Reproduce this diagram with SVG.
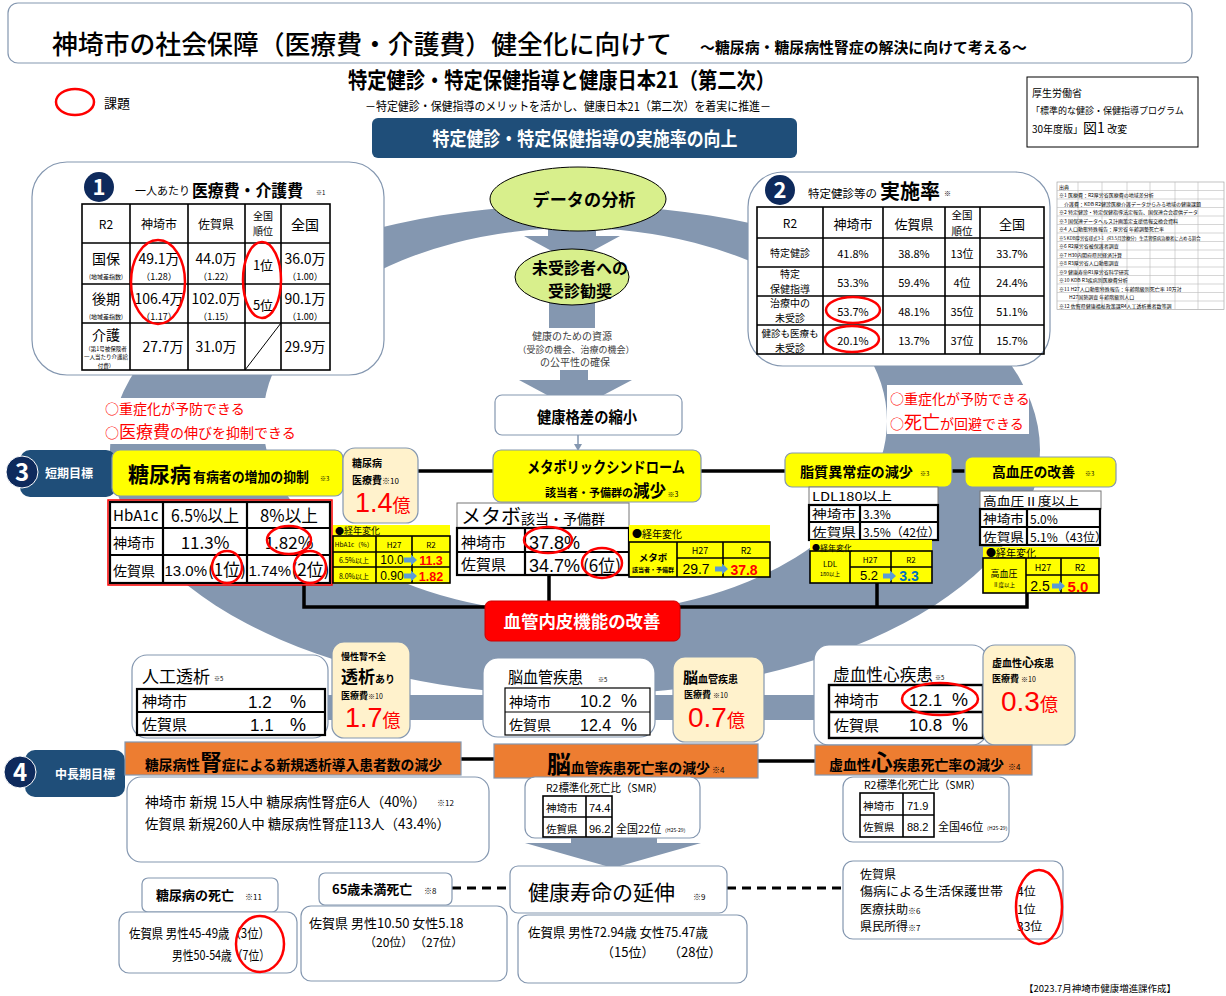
<svg xmlns="http://www.w3.org/2000/svg" width="1226" height="996" viewBox="0 0 1226 996">
<style>
text{font-family:"Noto Sans CJK JP","Noto Sans CJK SC",sans-serif;fill:#000}
.n{font-family:"Liberation Sans",Arial,sans-serif}
.b{font-weight:bold}
.m{text-anchor:middle}
.r{fill:#f00}
.w{fill:#fff}
.bl{fill:#0070c0}
.g{fill:#404040}
.bx{fill:#fff;stroke:#8497b0;stroke-width:1.2}
.tb{fill:none;stroke:#000;stroke-width:1.6}
.ln{stroke:#000;stroke-width:1.6;fill:none}
.thk{fill:none;stroke:#000;stroke-width:2.2}
.yl{fill:#ff0;stroke:#8497b0;stroke-width:1.2}
.yb{fill:#ff0}
.cr{fill:#fff2cc;stroke:#8497b0;stroke-width:1.2}
.or{fill:#ed7d31;stroke:#8497b0;stroke-width:1.2}
.ov{fill:none;stroke:#f00;stroke-width:2.5}
.gr{fill:#8497b0}
.nv{fill:#0e2a5c}
.tab{fill:#1f4e79}
.conn{stroke:#000;stroke-width:3.5;fill:none}
.dash{stroke:#000;stroke-width:3;stroke-dasharray:9 6;fill:none}
.src{stroke:#bbb;stroke-width:0.6;fill:none}
.el{fill:#d8ef8c;stroke:#000;stroke-width:1}
.wt{fill:#fff}
</style>
<defs>
<path id="ar" d="M0,-2.5H7V-5.5L13,0L7,5.5V2.5H0Z" fill="#5b9bd5"/>
</defs>

<g id="ring">
<path class="gr" fill-rule="evenodd" d="M110,450 A465,245 0 1,0 1040,450 A465,245 0 1,0 110,450 Z M263,421 A312,193 0 1,0 887,421 A312,193 0 1,0 263,421 Z"/>
<rect class="gr" x="320" y="695" width="510" height="25"/>
</g>

<g id="connectors">
<path class="gr" d="M548,226 H596 V236 H620 L572,262 L524,236 H548 Z"/>
<rect class="gr" x="549" y="298" width="46" height="30"/>
<path class="gr" d="M560,370 H588 V380 H632 L575,410 L519,380 H560 Z"/>
<line x1="578" y1="435" x2="578" y2="446" stroke="#8497b0" stroke-width="1.5"/>
<path d="M574,444 L582,444 L578,451 Z" fill="#8497b0"/>
<line class="conn" x1="418" y1="471" x2="965" y2="471"/>
<path class="conn" d="M304,584 V607 H1027 V593 M549,575 V601 M877,583 V607"/>
<line class="conn" x1="461" y1="759" x2="494" y2="759"/>
<line class="conn" x1="758" y1="761" x2="815" y2="761"/>
<path class="gr" d="M571,830 H657 V843 H701 L613,868 L525,843 H571 Z"/>
<line class="dash" x1="452" y1="888" x2="510" y2="888"/>
<line class="dash" x1="727" y1="888" x2="843" y2="888"/>
</g>

<g id="header">
<rect x="8" y="3" width="1184" height="60" rx="10" fill="#fff" stroke="#8497b0" stroke-width="1.2"/>
<text x="52" y="54" font-size="26" font-weight="500" textLength="620" lengthAdjust="spacingAndGlyphs">神埼市の社会保障（医療費・介護費）健全化に向けて</text>
<text x="700" y="53" font-size="15" class="b" textLength="327" lengthAdjust="spacingAndGlyphs">～糖尿病・糖尿病性腎症の解決に向けて考える～</text>
<text x="348" y="88" font-size="22" class="b" textLength="427" lengthAdjust="spacingAndGlyphs">特定健診・特定保健指導と健康日本21（第二次）</text>
<text x="365" y="111" font-size="12" textLength="406" lengthAdjust="spacingAndGlyphs">－特定健診・保健指導のメリットを活かし、健康日本21（第二次）を着実に推進－</text>
</g>

<g id="legend">
<ellipse class="ov" cx="75" cy="102" rx="19" ry="13"/>
<text x="104" y="108" font-size="13">課題</text>
</g>

<g id="reference">
<rect x="1027" y="77" width="171" height="70" fill="#fff" stroke="#000" stroke-width="1"/>
<text font-size="10"><tspan x="1032" y="97">厚生労働省</tspan><tspan x="1031" y="114" font-size="9">「標準的な健診・保健指導プログラム</tspan><tspan x="1032" y="133">30年度版」<tspan font-size="14">図1</tspan> 改変</tspan></text>
</g>

<g id="goal">
<rect x="372" y="118" width="425" height="40" rx="6" fill="#1f4e79"/>
<text x="585" y="146" font-size="19" class="b w m" textLength="305" lengthAdjust="spacingAndGlyphs">特定健診・特定保健指導の実施率の向上</text>
</g>

<g id="box1">
<rect class="bx" x="32" y="162" width="352" height="213" rx="35"/>
<circle class="nv" cx="99" cy="187" r="15"/>
<text x="99" y="195" font-size="22" class="b w m">1</text>
<text x="135" y="195" font-size="11">一人あたり</text>
<text x="192" y="197" font-size="16.5" class="b" textLength="111" lengthAdjust="spacingAndGlyphs">医療費・介護費</text>
<text x="316" y="195" font-size="6">※1</text>
<rect class="tb" x="82" y="204" width="248" height="166"/>
<path class="ln" d="M130,204V370M188,204V370M245,204V370M281,204V370M82,243H330M82,284H330M82,323H330"/>
<line x1="245" y1="370" x2="281" y2="323" stroke="#000" stroke-width="1"/>
<g class="m">
<text x="106" y="229" font-size="12">R2</text>
<text x="159" y="229" font-size="12">神埼市</text>
<text x="216" y="229" font-size="12">佐賀県</text>
<text font-size="10"><tspan x="263" y="220">全国</tspan><tspan x="263" y="235">順位</tspan></text>
<text x="305" y="230" font-size="14">全国</text>
<text font-size="14"><tspan x="106" y="264">国保</tspan><tspan x="106" y="279" font-size="6">(地域差指数)</tspan></text>
<text font-size="14"><tspan x="159" y="264">49.1万</tspan><tspan x="159" y="280" font-size="9">（1.28）</tspan></text>
<text font-size="14"><tspan x="216" y="264">44.0万</tspan><tspan x="216" y="280" font-size="9">（1.22）</tspan></text>
<text x="263" y="270" font-size="13">1位</text>
<text font-size="14"><tspan x="305" y="264">36.0万</tspan><tspan x="305" y="280" font-size="9">（1.00）</tspan></text>
<text font-size="14"><tspan x="106" y="304">後期</tspan><tspan x="106" y="319" font-size="6">(地域差指数)</tspan></text>
<text font-size="14"><tspan x="159" y="304">106.4万</tspan><tspan x="159" y="320" font-size="9">（1.17）</tspan></text>
<text font-size="14"><tspan x="216" y="304">102.0万</tspan><tspan x="216" y="320" font-size="9">（1.15）</tspan></text>
<text x="263" y="310" font-size="13">5位</text>
<text font-size="14"><tspan x="305" y="304">90.1万</tspan><tspan x="305" y="320" font-size="9">（1.00）</tspan></text>
<text font-size="14"><tspan x="106" y="340">介護</tspan><tspan x="106" y="351" font-size="5.5">（第1号被保険者</tspan><tspan x="106" y="359.3" font-size="5.5">一人当たり介護給</tspan><tspan x="106" y="367.6" font-size="5.5">付費）</tspan></text>
<text x="163" y="352" font-size="14">27.7万</text>
<text x="216" y="352" font-size="14">31.0万</text>
<text x="305" y="352" font-size="14">29.9万</text>
</g>
<ellipse class="ov" cx="158" cy="282" rx="27" ry="42"/>
<ellipse class="ov" cx="262" cy="280" rx="19" ry="38"/>
</g>

<g id="box2">
<rect class="bx" x="748" y="172" width="302" height="194" rx="35"/>
<circle class="nv" cx="780" cy="190" r="15"/>
<text x="780" y="198" font-size="22" class="b w m">2</text>
<text x="808" y="198" font-size="11.5">特定健診等の</text>
<text x="880" y="199" font-size="20" class="b">実施率</text>
<text x="944" y="196" font-size="7">※</text>
<rect class="tb" x="757" y="207" width="287" height="147"/>
<path class="ln" d="M823,207V354M883,207V354M945,207V354M980,207V354M757,238H1044M757,267H1044M757,296H1044M757,325H1044"/>
<g class="m">
<text x="790" y="228" font-size="12">R2</text>
<text x="853" y="229" font-size="13">神埼市</text>
<text x="914" y="229" font-size="13">佐賀県</text>
<text font-size="10.5"><tspan x="962" y="219">全国</tspan><tspan x="962" y="235">順位</tspan></text>
<text x="1012" y="229" font-size="13">全国</text>
<text x="790" y="257" font-size="10">特定健診</text>
<text x="853" y="258" font-size="11">41.8%</text>
<text x="914" y="258" font-size="11">38.8%</text>
<text x="962" y="258" font-size="11">13位</text>
<text x="1012" y="258" font-size="11">33.7%</text>
<text font-size="10"><tspan x="790" y="278">特定</tspan><tspan x="790" y="293">保健指導</tspan></text>
<text x="853" y="287" font-size="11">53.3%</text>
<text x="914" y="287" font-size="11">59.4%</text>
<text x="962" y="287" font-size="11">4位</text>
<text x="1012" y="287" font-size="11">24.4%</text>
<text font-size="10"><tspan x="790" y="307">治療中の</tspan><tspan x="790" y="322">未受診</tspan></text>
<text x="853" y="316" font-size="11">53.7%</text>
<text x="914" y="316" font-size="11">48.1%</text>
<text x="962" y="316" font-size="11">35位</text>
<text x="1012" y="316" font-size="11">51.1%</text>
<text font-size="9.5"><tspan x="790" y="336.5">健診も医療も</tspan><tspan x="790" y="351.5" font-size="10">未受診</tspan></text>
<text x="853" y="345" font-size="11">20.1%</text>
<text x="914" y="345" font-size="11">13.7%</text>
<text x="962" y="345" font-size="11">37位</text>
<text x="1012" y="345" font-size="11">15.7%</text>
</g>
<ellipse class="ov" cx="853" cy="310" rx="27" ry="13"/>
<ellipse class="ov" cx="852" cy="339" rx="27" ry="13"/>
</g>

<g id="sources" font-size="5">
<rect x="1057" y="182" width="167" height="127.5" fill="#fff" stroke="#999" stroke-width="0.6"/>
<path class="src" d="M1078,182V309.5M1102,182V309.5M1127,182V309.5M1150,182V309.5M1175,182V309.5M1198,182V309.5M1057,190.5H1224M1057,199H1224M1057,207.5H1224M1057,216H1224M1057,224.5H1224M1057,233H1224M1057,241.5H1224M1057,250H1224M1057,258.5H1224M1057,267H1224M1057,275.5H1224M1057,284H1224M1057,292.5H1224M1057,301H1224"/>
<text x="1059" y="188.5" font-size="5">出典</text>
<text x="1059" y="197" font-size="5">※1 医療費：R2厚労省医療費の地域差分析</text>
<text x="1059" y="205.5" font-size="5">　介護費：KDB R2健診医療介護データからみる地域の健康課題</text>
<text x="1059" y="214" font-size="5">※2 特定健診・特定保健指導法定報告、国保連合会提供データ</text>
<text x="1059" y="222.5" font-size="5">※3 国保連データヘルス計画策定支援情報交換会資料</text>
<text x="1059" y="231" font-size="5">※4 人口動態特殊報告：厚労省 年齢調整死亡率</text>
<text x="1059" y="239.5" font-size="4.4">※5 KDB厚労省様式3-1（R3.5月診療分）生活習慣病治療者に占める割合</text>
<text x="1059" y="248" font-size="5">※6 R2厚労省被保護者調査</text>
<text x="1059" y="256.5" font-size="5">※7 H30内閣府県民経済計算</text>
<text x="1059" y="265" font-size="5">※8 R3厚労省人口動態調査</text>
<text x="1059" y="273.5" font-size="5">※9 健康寿命R1厚労省科学研究</text>
<text x="1059" y="282" font-size="5">※10 KDB R3疾病別医療費分析</text>
<text x="1059" y="290.5" font-size="5">※11 H27人口動態特殊報告：年齢階級別死亡率 10万対</text>
<text x="1059" y="299" font-size="5">　　H27国勢調査 年齢階級別人口</text>
<text x="1059" y="307.5" font-size="5">※12 佐賀県健康福祉政策課R4人工透析患者数等調</text>
</g>

<g id="analysis">
<ellipse class="el" cx="578" cy="199" rx="88" ry="32"/>
<text x="584" y="206" font-size="17" class="b m" textLength="103" lengthAdjust="spacingAndGlyphs">データの分析</text>
</g>
<g id="recommend">
<ellipse class="el" cx="572" cy="277" rx="57" ry="28"/>
<text font-size="16" class="b m"><tspan x="580" y="274">未受診者への</tspan><tspan x="580" y="297">受診勧奨</tspan></text>
</g>
<g id="resources">
<text font-size="10" class="m g"><tspan x="572" y="340">健康のための資源</tspan><tspan x="576" y="353" font-size="9">（受診の機会、治療の機会）</tspan><tspan x="575" y="366">の公平性の確保</tspan></text>
</g>
<g id="gap">
<rect class="bx" x="495" y="395" width="187" height="40" rx="7"/>
<text x="587" y="423" font-size="16" class="b m" textLength="100" lengthAdjust="spacingAndGlyphs">健康格差の縮小</text>
</g>

<g id="effect-left">
<rect x="103" y="398" width="178" height="46" fill="#fff"/>
<text font-size="14" class="r"><tspan x="105" y="414">○重症化が予防できる</tspan><tspan x="105" y="438">○<tspan font-size="17">医療費</tspan>の伸びを抑制できる</tspan></text>
</g>
<g id="effect-right">
<rect x="887" y="385" width="142" height="49" fill="#fff"/>
<text font-size="14" class="r"><tspan x="890" y="404">○重症化が予防できる</tspan><tspan x="890" y="429">○<tspan font-size="18">死亡</tspan>が回避できる</tspan></text>
</g>

<g id="short-term">
<rect class="tab" x="20" y="450" width="96" height="47" rx="10"/>
<circle class="nv" cx="22" cy="472" r="16" stroke="#fff" stroke-width="1"/>
<text x="22" y="481" font-size="24" class="b w m">3</text>
<text x="45" y="478" font-size="12" class="b w">短期目標</text>
</g>

<g id="diabetes">
<rect class="yl" x="112" y="450" width="231" height="46" rx="8"/>
<text x="128" y="482" font-size="21" class="b">糖尿病</text>
<text x="193" y="482" font-size="14" class="b" textLength="116" lengthAdjust="spacingAndGlyphs">有病者の増加の抑制</text>
<text x="320" y="481" font-size="6">※3</text>
</g>
<g id="diabetes-cost">
<rect class="cr" x="343" y="448" width="75" height="75" rx="12"/>
<text font-size="10" class="b"><tspan x="352" y="467">糖尿病</tspan><tspan x="352" y="484">医療費<tspan font-size="8" font-weight="normal">※10</tspan></tspan></text>
<text x="355" y="512" font-size="27" class="r"><tspan class="n">1.4</tspan><tspan font-size="18">億</tspan></text>
</g>
<g id="hba1c">
<rect x="108" y="500" width="224" height="85" fill="#fff" stroke="#f00" stroke-width="1.5"/>
<rect class="thk" x="110" y="502" width="220" height="81"/>
<path class="thk" d="M163,502V583M247,502V583M110,528H330M110,555H330"/>
<text x="113" y="521" font-size="15">HbA1c</text>
<text x="205" y="522" font-size="17" class="m" textLength="68" lengthAdjust="spacingAndGlyphs">6.5%以上</text>
<text x="289" y="522" font-size="17" class="m" textLength="58" lengthAdjust="spacingAndGlyphs">8%以上</text>
<text x="113" y="548" font-size="14">神埼市</text>
<text x="205" y="549" font-size="17" class="m">11.3%</text>
<text x="289" y="549" font-size="17" class="m">1.82%</text>
<text x="113" y="576" font-size="14">佐賀県</text>
<text x="164.5" y="576" font-size="15" class="n">13.0%</text>
<text x="208" y="576" font-size="17">(1位)</text>
<text x="248.5" y="576" font-size="15" class="n">1.74%</text>
<text x="291.5" y="576" font-size="17">(2位)</text>
<ellipse class="ov" cx="227" cy="567" rx="15" ry="16"/>
<ellipse class="ov" cx="289" cy="540" rx="22" ry="14"/>
<ellipse class="ov" cx="310" cy="567" rx="16" ry="16"/>
</g>
<g id="hba1c-trend">
<rect class="yb" x="333" y="525" width="117" height="59"/>
<text x="335" y="534" font-size="9">●経年変化</text>
<rect class="tb" x="333" y="536" width="117" height="47"/>
<path class="ln" d="M376,536V583M412,536V583M333,552H450M333,567H450"/>
<text x="354" y="547" font-size="6.5" class="m">HbA1c（%）</text>
<text x="394" y="548" font-size="8" class="m">H27</text>
<text x="431" y="548" font-size="8" class="m">R2</text>
<text x="354" y="563" font-size="7" class="m">6.5%以上</text>
<text x="354" y="579" font-size="7" class="m">8.0%以上</text>
<text x="392" y="564" font-size="12" class="m n">10.0</text>
<text x="392" y="580" font-size="12" class="m n">0.90</text>
<use href="#ar" x="404" y="560"/>
<use href="#ar" x="404" y="576"/>
<text x="431" y="565" font-size="12.5" class="m b r n">11.3</text>
<text x="431" y="581" font-size="12.5" class="m b r n">1.82</text>
</g>

<g id="metabo">
<rect class="yl" x="493" y="450" width="208" height="52" rx="8"/>
<text class="b"><tspan x="527" y="472.5" font-size="15.5" textLength="158" lengthAdjust="spacingAndGlyphs">メタボリックシンドローム</tspan><tspan x="545" y="497" font-size="11">該当者・予備群の<tspan font-size="16.5">減少</tspan><tspan font-size="7" font-weight="normal"> ※3</tspan></tspan></text>
</g>
<g id="metabo-table">
<rect x="457" y="503" width="172" height="25" fill="#fff" stroke="#777" stroke-width="1"/>
<text x="461" y="524" font-size="20">メタボ<tspan font-size="14">該当・予備群</tspan></text>
<rect class="wt" x="457" y="528" width="172" height="47"/>
<rect class="thk" x="457" y="528" width="172" height="47"/>
<path class="thk" d="M525,528V575M457,552H629"/>
<text x="461" y="547.5" font-size="15">神埼市</text>
<text x="529" y="548.5" font-size="18" class="n">37.8%</text>
<text x="461" y="570" font-size="15">佐賀県</text>
<text x="529" y="572" font-size="18" class="n">34.7%</text>
<text x="583" y="572" font-size="17">(6位)</text>
<ellipse class="ov" cx="548" cy="540" rx="24" ry="13"/>
<ellipse class="ov" cx="602" cy="563" rx="20" ry="15"/>
</g>
<g id="metabo-trend">
<rect class="yb" x="629" y="525" width="141" height="52"/>
<text x="632" y="538" font-size="10">●経年変化</text>
<rect class="tb" x="629" y="542" width="141" height="35"/>
<path class="ln" d="M677,542V577M723,542V577M677,558H770"/>
<text class="m b"><tspan x="653" y="561" font-size="9.5">メタボ</tspan><tspan x="653" y="572" font-size="6">該当者・予備群</tspan></text>
<text x="700" y="554" font-size="9" class="m">H27</text>
<text x="746" y="554" font-size="9" class="m">R2</text>
<text x="696" y="574" font-size="14" class="m n">29.7</text>
<use href="#ar" x="715" y="569"/>
<text x="744" y="575" font-size="14" class="m b r n">37.8</text>
</g>

<g id="lipid">
<rect class="yl" x="785" y="453" width="167" height="34" rx="7"/>
<text x="800" y="477" font-size="14" class="b" textLength="113" lengthAdjust="spacingAndGlyphs">脂質異常症の減少</text>
<text x="920" y="476" font-size="6">※3</text>
</g>
<g id="lipid-table">
<rect x="809" y="487" width="129" height="18" fill="#fff" stroke="#777" stroke-width="1"/>
<text x="812" y="501" font-size="12" textLength="80" lengthAdjust="spacingAndGlyphs">LDL180以上</text>
<rect class="wt" x="809" y="505" width="129" height="35"/>
<rect class="thk" x="809" y="505" width="129" height="35"/>
<path class="thk" d="M860,505V540M809,522H938"/>
<text x="812" y="518.8" font-size="12" textLength="44" lengthAdjust="spacingAndGlyphs">神埼市</text>
<text x="863" y="518.8" font-size="12">3.3%</text>
<text x="812" y="536.5" font-size="12" textLength="44" lengthAdjust="spacingAndGlyphs">佐賀県</text>
<text x="863" y="536.5" font-size="12">3.5%（42位）</text>
</g>
<g id="lipid-trend">
<rect class="yb" x="810" y="540" width="122" height="43"/>
<text x="812" y="550.5" font-size="8">●経年変化</text>
<rect class="tb" x="810" y="551" width="122" height="32"/>
<path class="ln" d="M850,551V583M891,551V583M850,567H932"/>
<text class="m"><tspan x="830" y="567" font-size="8">LDL</tspan><tspan x="830" y="576" font-size="5.5">180以上</tspan></text>
<text x="870" y="563" font-size="8" class="m">H27</text>
<text x="911" y="563" font-size="8" class="m">R2</text>
<text x="869" y="580" font-size="13" class="m n">5.2</text>
<use href="#ar" x="883" y="576"/>
<text x="909" y="581" font-size="14" class="m b bl n">3.3</text>
</g>

<g id="bp">
<rect class="yl" x="965" y="457" width="151" height="30" rx="7"/>
<text x="992" y="477" font-size="14" class="b" textLength="83" lengthAdjust="spacingAndGlyphs">高血圧の改善</text>
<text x="1085" y="476" font-size="6">※3</text>
</g>
<g id="bp-table">
<rect x="980" y="491" width="121" height="18" fill="#fff" stroke="#777" stroke-width="1"/>
<text x="983" y="505.5" font-size="12" textLength="96" lengthAdjust="spacingAndGlyphs">高血圧Ⅱ度以上</text>
<rect class="wt" x="980" y="509" width="120" height="36"/>
<rect class="thk" x="980" y="509" width="120" height="36"/>
<path class="thk" d="M1027,509V545M980,527H1100"/>
<text x="983" y="523.5" font-size="12" textLength="41" lengthAdjust="spacingAndGlyphs">神埼市</text>
<text x="1030" y="523.5" font-size="12">5.0%</text>
<text x="983" y="541.5" font-size="12" textLength="41" lengthAdjust="spacingAndGlyphs">佐賀県</text>
<text x="1030" y="541.5" font-size="12">5.1%（43位）</text>
</g>
<g id="bp-trend">
<rect class="yb" x="983" y="547" width="116" height="46"/>
<text x="986" y="557" font-size="10">●経年変化</text>
<rect class="tb" x="983" y="558" width="116" height="35"/>
<path class="ln" d="M1026,558V593M1061,558V593M1026,575H1099"/>
<text class="m"><tspan x="1004" y="577" font-size="9">高血圧</tspan><tspan x="1004" y="586.5" font-size="5.5">Ⅱ度以上</tspan></text>
<text x="1043" y="571" font-size="9" class="m">H27</text>
<text x="1080" y="571" font-size="9" class="m">R2</text>
<text x="1040" y="591" font-size="14" class="m n">2.5</text>
<use href="#ar" x="1052" y="586"/>
<text x="1078" y="592" font-size="15" class="m b r n">5.0</text>
</g>

<g id="vascular">
<rect x="485" y="601" width="195" height="40" rx="6" fill="#f00" stroke="#c00" stroke-width="1"/>
<text x="582" y="628" font-size="17" class="b w m" textLength="157" lengthAdjust="spacingAndGlyphs">血管内皮機能の改善</text>
</g>

<g id="dialysis">
<rect class="bx" x="132" y="655" width="196" height="83" rx="15"/>
<text x="142" y="683" font-size="17">人工透析</text>
<text x="214" y="681" font-size="6">※5</text>
<rect x="137" y="689" width="188" height="46" fill="#fff" stroke="#000" stroke-width="2.2"/>
<line class="thk" x1="137" y1="712" x2="325" y2="712"/>
<text x="142" y="707" font-size="15">神埼市</text>
<text x="248" y="708" font-size="17" class="n">1.2</text>
<text x="290" y="708" font-size="18" class="n">%</text>
<text x="142" y="730" font-size="15">佐賀県</text>
<text x="250" y="731" font-size="17" class="n">1.1</text>
<text x="290" y="731" font-size="18" class="n">%</text>
</g>
<g id="dialysis-cost">
<rect class="cr" x="332" y="642" width="78" height="96" rx="12"/>
<text class="b" font-size="9"><tspan x="341" y="660">慢性腎不全</tspan><tspan x="341" y="683" font-size="17">透析<tspan font-size="10">あり</tspan></tspan><tspan x="341" y="698.5">医療費<tspan font-size="7" font-weight="normal">※10</tspan></tspan></text>
<text x="345" y="727" font-size="27" class="r"><tspan class="n">1.7</tspan><tspan font-size="18">億</tspan></text>
</g>

<g id="cerebro">
<rect class="bx" x="483" y="658" width="172" height="79" rx="15"/>
<text x="508" y="683" font-size="16" textLength="75" lengthAdjust="spacingAndGlyphs">脳血管疾患</text>
<text x="598" y="682" font-size="6">※5</text>
<rect x="505" y="688" width="145" height="47" fill="#fff" stroke="#000" stroke-width="1.2"/>
<line x1="505" y1="712" x2="650" y2="712" stroke="#000" stroke-width="1.2"/>
<text x="509" y="707" font-size="14">神埼市</text>
<text x="580" y="707" font-size="16" class="n">10.2</text>
<text x="621" y="707" font-size="18" class="n">%</text>
<text x="509" y="730" font-size="14">佐賀県</text>
<text x="580" y="731" font-size="16" class="n">12.4</text>
<text x="621" y="731" font-size="18" class="n">%</text>
</g>
<g id="cerebro-cost">
<rect class="cr" x="673" y="657" width="91" height="85" rx="12"/>
<text class="b" font-size="10"><tspan x="683" y="683"><tspan font-size="15">脳</tspan>血管疾患</tspan><tspan x="684" y="698" font-size="9">医療費 <tspan font-size="7" font-weight="normal">※10</tspan></tspan></text>
<text x="688" y="727" font-size="28" class="r"><tspan class="n">0.7</tspan><tspan font-size="18">億</tspan></text>
</g>

<g id="ischemic">
<rect class="bx" x="814" y="645" width="173" height="100" rx="15"/>
<text x="833" y="681" font-size="16.5" textLength="100" lengthAdjust="spacingAndGlyphs">虚血性心疾患</text>
<text x="935" y="680" font-size="6">※5</text>
<rect x="829" y="685" width="154" height="53" fill="#fff" stroke="#000" stroke-width="2.4"/>
<line x1="829" y1="712" x2="983" y2="712" stroke="#000" stroke-width="2.4"/>
<text x="834" y="706" font-size="15">神埼市</text>
<text x="909" y="706" font-size="17" class="n">12.1</text>
<text x="952" y="706" font-size="18" class="n">%</text>
<text x="834" y="731" font-size="15">佐賀県</text>
<text x="909" y="731" font-size="17" class="n">10.8</text>
<text x="952" y="731" font-size="18" class="n">%</text>
<ellipse class="ov" cx="940" cy="699" rx="38" ry="16"/>
</g>
<g id="ischemic-cost">
<rect class="cr" x="983" y="645" width="92" height="100" rx="12"/>
<text class="b" font-size="10"><tspan x="992" y="667">虚血性<tspan font-size="12">心</tspan>疾患</tspan><tspan x="992" y="682" font-size="9">医療費 <tspan font-size="7" font-weight="normal">※10</tspan></tspan></text>
<text x="1001" y="711" font-size="28" class="r"><tspan class="n">0.3</tspan><tspan font-size="18">億</tspan></text>
</g>

<g id="long-term">
<rect class="tab" x="25" y="750" width="100" height="47" rx="10"/>
<circle class="nv" cx="20" cy="772" r="16" stroke="#fff" stroke-width="1"/>
<text x="20" y="781" font-size="24" class="b w m">4</text>
<text x="55" y="779" font-size="12" class="b w">中長期目標</text>
</g>

<g id="nephropathy">
<rect class="or" x="125" y="742" width="336" height="33"/>
<text x="145" y="770" font-size="14" class="b" textLength="297" lengthAdjust="spacingAndGlyphs">糖尿病性<tspan font-size="22">腎</tspan>症による新規透析導入患者数の減少</text>
<rect class="bx" x="127" y="777" width="362" height="85" rx="14"/>
<text x="145" y="807" font-size="14" textLength="281" lengthAdjust="spacingAndGlyphs">神埼市 新規 15人中 糖尿病性腎症6人（40%）</text>
<text x="437" y="806" font-size="8">※12</text>
<text x="145" y="829" font-size="14" textLength="305" lengthAdjust="spacingAndGlyphs">佐賀県 新規260人中 糖尿病性腎症113人（43.4%）</text>
</g>

<g id="cerebro-death">
<rect class="or" x="494" y="744" width="264" height="34"/>
<text x="547" y="773" font-size="14" class="b" textLength="163" lengthAdjust="spacingAndGlyphs"><tspan font-size="24">脳</tspan>血管疾患死亡率の減少</text>
<text x="712" y="773" font-size="8">※4</text>
<rect class="bx" x="525" y="777" width="175" height="61" rx="10"/>
<text x="546" y="792" font-size="11" textLength="117" lengthAdjust="spacingAndGlyphs">R2標準化死亡比（SMR）</text>
<rect x="543" y="796" width="69" height="41" fill="#fff" stroke="#000" stroke-width="1.6"/>
<path class="ln" d="M586,796V837M543,817H612"/>
<text x="546" y="812" font-size="10.5">神埼市</text>
<text x="589" y="812" font-size="11" class="n">74.4</text>
<text x="546" y="833" font-size="10.5">佐賀県</text>
<text x="589" y="833" font-size="11" class="n">96.2</text>
<text x="616" y="833" font-size="11">全国22位</text>
<text x="662" y="832" font-size="5">（H25-29）</text>
</g>

<g id="ischemic-death">
<rect class="or" x="815" y="745" width="217" height="30"/>
<text x="829" y="770" font-size="14" class="b" textLength="175" lengthAdjust="spacingAndGlyphs">虚血性<tspan font-size="22">心</tspan>疾患死亡率の減少</text>
<text x="1008" y="770" font-size="8">※4</text>
<rect class="bx" x="843" y="777" width="166" height="65" rx="10"/>
<text x="864" y="789" font-size="11" textLength="117" lengthAdjust="spacingAndGlyphs">R2標準化死亡比（SMR）</text>
<rect x="860" y="793" width="74" height="44" fill="#fff" stroke="#000" stroke-width="1.6"/>
<path class="ln" d="M903,793V837M860,815H934"/>
<text x="863" y="810" font-size="10.5">神埼市</text>
<text x="907" y="810" font-size="11" class="n">71.9</text>
<text x="863" y="831" font-size="10.5">佐賀県</text>
<text x="907" y="831" font-size="11" class="n">88.2</text>
<text x="938" y="831" font-size="11">全国46位</text>
<text x="984" y="830" font-size="5">（H25-29）</text>
</g>

<g id="healthy-life">
<rect class="bx" x="510" y="866" width="217" height="47" rx="8"/>
<text x="528" y="900" font-size="21">健康寿命の延伸</text>
<text x="693" y="900" font-size="8">※9</text>
<rect class="bx" x="518" y="915" width="229" height="68" rx="10"/>
<text font-size="13"><tspan x="528" y="937" textLength="180" lengthAdjust="spacingAndGlyphs">佐賀県 男性72.94歳 女性75.47歳</tspan><tspan x="601" y="956.5">（15位）</tspan><tspan x="668" y="956.5">（28位）</tspan></text>
</g>

<g id="under65">
<rect class="bx" x="319" y="873" width="133" height="32" rx="6"/>
<text x="332" y="894" font-size="13" class="b">65歳未満死亡</text>
<text x="424" y="894" font-size="8">※8</text>
<rect class="bx" x="301" y="906" width="206" height="75" rx="10"/>
<text font-size="13"><tspan x="309" y="928">佐賀県 男性10.50 女性5.18</tspan><tspan x="364" y="946.5" font-size="12">（20位）</tspan><tspan x="414" y="946.5" font-size="12">（27位）</tspan></text>
</g>

<g id="diabetes-death">
<rect class="bx" x="142" y="878" width="136" height="34" rx="6"/>
<text x="156" y="900" font-size="13" class="b">糖尿病の死亡</text>
<text x="245" y="900" font-size="8">※11</text>
<rect class="bx" x="119" y="912" width="178" height="61" rx="10"/>
<text font-size="13"><tspan x="129" y="938" textLength="141" lengthAdjust="spacingAndGlyphs">佐賀県 男性45-49歳（3位）</tspan><tspan x="172" y="960" textLength="98" lengthAdjust="spacingAndGlyphs">男性50-54歳（7位）</tspan></text>
<ellipse class="ov" cx="260" cy="944" rx="24" ry="28"/>
</g>

<g id="saga-stats">
<rect class="bx" x="843" y="861" width="220" height="78" rx="10"/>
<text font-size="12"><tspan x="860" y="878.5">佐賀県</tspan><tspan x="860" y="896" textLength="143" lengthAdjust="spacingAndGlyphs">傷病による生活保護世帯</tspan><tspan x="860" y="913.5">医療扶助<tspan font-size="8">※6</tspan></tspan><tspan x="860" y="931">県民所得<tspan font-size="8">※7</tspan></tspan></text>
<text font-size="12"><tspan x="1017" y="896">4位</tspan><tspan x="1017" y="913.5">1位</tspan><tspan x="1017" y="931">33位</tspan></text>
<ellipse class="ov" cx="1039" cy="907" rx="23" ry="37"/>
</g>

<g id="footer">
<text x="1024" y="992" font-size="9.5" textLength="152" lengthAdjust="spacingAndGlyphs">【2023.7月神埼市健康増進課作成】</text>
</g>
</svg>
